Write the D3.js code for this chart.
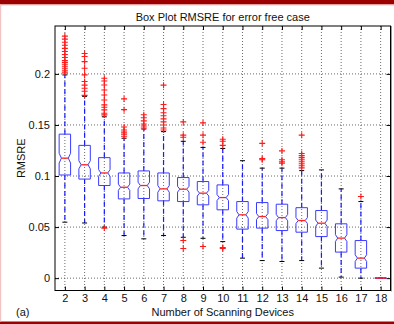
<!DOCTYPE html>
<html>
<head>
<meta charset="utf-8">
<script src="https://cdn.jsdelivr.net/npm/d3@7"></script>
<style>
body{margin:0;background:#fff;}
svg{display:block;font-family:"Liberation Sans",Arial,sans-serif;}
</style>
</head>
<body>
<svg id="chart" width="394" height="324"></svg>
<script>
const categories = [2,3,4,5,6,7,8,9,10,11,12,13,14,15,16,17,18];
const q3 =      [0.141,0.130,0.118,0.103,0.105,0.103,0.0985,0.0946,0.0913,0.075,0.074,0.0724,0.069,0.0662,0.0532,0.0368,0];
const medians = [0.1175,0.111,0.103,0.089,0.0907,0.0874,0.0871,0.0832,0.0789,0.062,0.0603,0.0593,0.0564,0.0538,0.0392,0.0196,0];
const q1 =      [0.101,0.097,0.0907,0.0776,0.078,0.0757,0.075,0.0718,0.0669,0.048,0.049,0.0466,0.045,0.0407,0.0255,0.0098,0];
const whiskerLow =  [0.0548,0.054,0.050,0.0417,0.0385,0.0417,0.040,0.039,0.0358,0.0196,0.0172,0.0163,0.0172,0.0098,0.001,0,0];
const whiskerHigh = [0.199,0.178,0.158,0.137,0.146,0.1435,0.134,0.128,0.127,0.115,0.1077,0.1077,0.1053,0.106,0.0874,0.075,0];
const outliers = [
  [0.201,0.203,0.205,0.207,0.209,0.211,0.213,0.216,0.219,0.222,0.225,0.228,0.231,0.234,0.237],
  [0.220,0.217,0.212,0.2056,0.199,0.1925,0.189,0.186,0.183,0.179],
  [0.1958,0.1931,0.1892,0.1843,0.1794,0.1745,0.1697,0.1674,0.1648,0.1615,0.1599,0.049],
  [0.1755,0.165,0.148,0.145,0.143,0.141,0.139],
  [0.160,0.157,0.154,0.151,0.149,0.147],
  [0.189,0.170,0.166,0.162,0.159,0.156,0.153,0.150,0.147,0.145],
  [0.153,0.140,0.138,0.0368,0.029],
  [0.152,0.140,0.133,0.031],
  [0.136,0.134,0.130,0.029,0.030],
  [],
  [0.132,0.117,0.116],
  [0.1246,0.116,0.1126,0.114],
  [0.140,0.122,0.120,0.118,0.116,0.114,0.112,0.110,0.108],
  [],
  [],
  [0.080],
  []
];
const yTicks = [0,0.05,0.1,0.15,0.2];
const yTickLabels = ["0","0.05","0.1","0.15","0.2"];
const titleText = "Box Plot RMSRE for error free case";
const xLabelText = "Number of Scanning Devices";
const yLabelText = "RMSRE";
const panelLabel = "(a)";

const svg = d3.select("#chart");
const W = 394, H = 324;
const L = 55, R = 390.5, T = 26, B = 290.5;

// frame decorations
svg.append("rect").attr("x",0).attr("y",0).attr("width",W).attr("height",H).attr("fill","#fff");
svg.append("rect").attr("x",0).attr("y",0).attr("width",W).attr("height",4.5).attr("fill","#9c0000");
svg.append("rect").attr("x",0).attr("y",4.5).attr("width",W).attr("height",1).attr("fill","#f2c4c4");
svg.append("rect").attr("x",0).attr("y",321.5).attr("width",W).attr("height",2.5).attr("fill","#9c0000");
svg.append("rect").attr("x",0).attr("y",4.5).attr("width",1.2).attr("height",317).attr("fill","#f2c4c4");

const x = d3.scaleLinear().domain([1.5,18.5]).range([L,R]);
const y = d3.scaleLinear().domain([-0.0121,0.2469]).range([B,T]);

// grid
const g = svg.append("g");
g.selectAll(".gx").data(categories).enter().append("line")
  .attr("x1",d=>x(d)).attr("x2",d=>x(d)).attr("y1",T).attr("y2",B)
  .attr("stroke","#444").attr("stroke-width",0.8).attr("stroke-dasharray","1,2");
g.selectAll(".gy").data(yTicks).enter().append("line")
  .attr("x1",L).attr("x2",R).attr("y1",d=>y(d)).attr("y2",d=>y(d))
  .attr("stroke","#444").attr("stroke-width",0.8).attr("stroke-dasharray","1,2");

// axes
const xAxis = d3.axisBottom(x).tickValues(categories).tickSize(-4).tickPadding(4).tickFormat(d3.format("d"));
const yAxis = d3.axisLeft(y).tickValues(yTicks).tickSize(-4).tickPadding(5).tickFormat((d,i)=>yTickLabels[i]);
const gx = svg.append("g").attr("transform",`translate(0,${B})`).call(xAxis);
const gy = svg.append("g").attr("transform",`translate(${L},0)`).call(yAxis);
const gxt = svg.append("g").attr("transform",`translate(0,${T})`).call(d3.axisTop(x).tickValues(categories).tickSize(-4).tickFormat(""));
const gyr = svg.append("g").attr("transform",`translate(${R},0)`).call(d3.axisRight(y).tickValues(yTicks).tickSize(-4).tickFormat(""));
[gx,gy,gxt,gyr].forEach(a=>{
  a.select(".domain").remove();
  a.selectAll("line").attr("stroke","#000").attr("stroke-width",1);
  a.selectAll("text").attr("font-size",11).attr("fill","#111").attr("font-family","'Liberation Sans',Arial,sans-serif");
});
// axis box
svg.append("rect").attr("x",L).attr("y",T).attr("width",R-L).attr("height",B-T)
  .attr("fill","none").attr("stroke","#000").attr("stroke-width",1);
svg.append("line").attr("x1",R+1).attr("x2",R+1).attr("y1",T).attr("y2",B+1).attr("stroke","#999").attr("stroke-width",1);

// boxes
const hw = (x(1)-x(0))*0.29;   // half box width in px
const nw = hw*0.6;              // half notch width
const boxG = svg.append("g");
categories.forEach((c,i)=>{
  const cx = x(c);
  const iqr = q3[i]-q1[i];
  const nLo = medians[i]-0.12*iqr, nHi = medians[i]+0.12*iqr;
  // whiskers
  boxG.append("line").attr("x1",cx).attr("x2",cx).attr("y1",y(q3[i])).attr("y2",y(whiskerHigh[i]))
    .attr("stroke","#1a1aff").attr("stroke-width",1.2).attr("stroke-dasharray","5,3");
  boxG.append("line").attr("x1",cx).attr("x2",cx).attr("y1",y(q1[i])).attr("y2",y(whiskerLow[i]))
    .attr("stroke","#1a1aff").attr("stroke-width",1.2).attr("stroke-dasharray","5,3");
  // caps
  [whiskerHigh[i],whiskerLow[i]].forEach(v=>{
    boxG.append("line").attr("x1",cx-2.5).attr("x2",cx+2.5).attr("y1",y(v)).attr("y2",y(v))
      .attr("stroke","#000").attr("stroke-width",1);
  });
  // notched box
  const p = d3.path();
  p.moveTo(cx-hw,y(q1[i]));
  p.lineTo(cx-hw,y(nLo));
  p.lineTo(cx-nw,y(medians[i]));
  p.lineTo(cx-hw,y(nHi));
  p.lineTo(cx-hw,y(q3[i]));
  p.lineTo(cx+hw,y(q3[i]));
  p.lineTo(cx+hw,y(nHi));
  p.lineTo(cx+nw,y(medians[i]));
  p.lineTo(cx+hw,y(nLo));
  p.lineTo(cx+hw,y(q1[i]));
  p.closePath();
  boxG.append("path").attr("d",p.toString()).attr("fill","none").attr("stroke","#3a3aff").attr("stroke-width",1);
  const mw = iqr===0 ? hw : nw;
  boxG.append("line").attr("x1",cx-mw).attr("x2",cx+mw).attr("y1",y(medians[i])).attr("y2",y(medians[i]))
    .attr("stroke","#ff2020").attr("stroke-width",1.3);
  // outliers
  outliers[i].forEach(v=>{
    const oy = y(v);
    boxG.append("path").attr("d",`M${cx-3},${oy}H${cx+3}M${cx},${oy-3}V${oy+3}`)
      .attr("stroke","#ff1a1a").attr("stroke-width",1.1).attr("fill","none");
  });
});

// texts
svg.append("text").attr("x",(L+R)/2).attr("y",20.5).attr("text-anchor","middle")
  .attr("font-size",11).attr("fill","#111").text(titleText);
svg.append("text").attr("x",(L+R)/2).attr("y",315.5).attr("text-anchor","middle")
  .attr("font-size",11).attr("fill","#111").text(xLabelText);
svg.append("text").attr("transform",`translate(24.5,${(T+B)/2}) rotate(-90)`).attr("text-anchor","middle")
  .attr("font-size",11).attr("fill","#111").text(yLabelText);
svg.append("text").attr("x",16).attr("y",315.5).attr("font-size",11).attr("fill","#111").text(panelLabel);
</script>
</body>
</html>
